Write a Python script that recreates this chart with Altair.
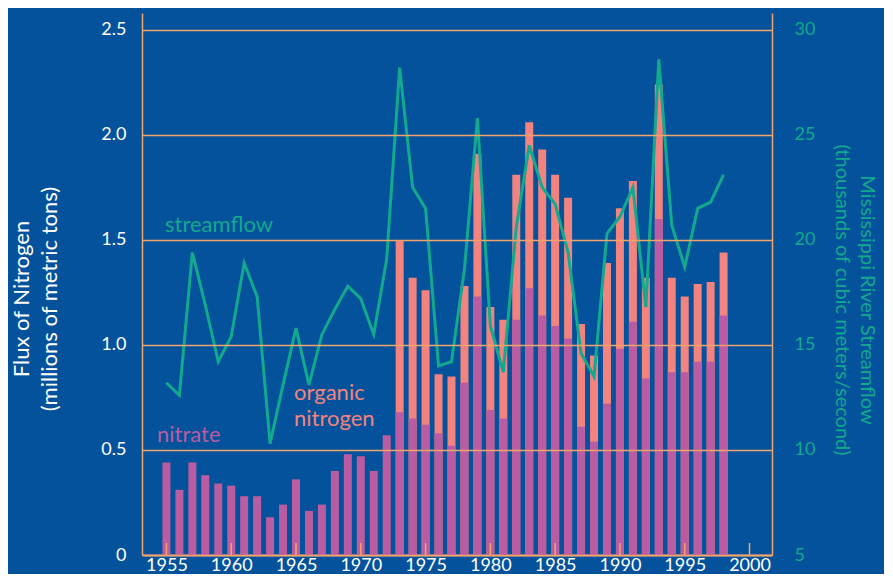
import altair as alt
import pandas as pd

# ---------------- data ----------------
years = list(range(1955, 1999))

nitrate = [0.44, 0.31, 0.44, 0.38, 0.34, 0.33, 0.28, 0.28, 0.18, 0.24,
           0.36, 0.21, 0.24, 0.40, 0.48, 0.47, 0.40, 0.57, 0.68, 0.65,
           0.62, 0.58, 0.52, 0.82, 1.23, 0.69, 0.65, 1.12, 1.27, 1.14,
           1.09, 1.03, 0.61, 0.54, 0.72, 0.98, 1.11, 0.84, 1.60, 0.87,
           0.87, 0.92, 0.92, 1.14]

# nitrate + organic nitrogen (organic only measured from 1973)
total_n = [None] * 18 + [1.50, 1.32, 1.26, 0.86, 0.85, 1.28, 1.91, 1.18,
                         1.12, 1.81, 2.06, 1.93, 1.81, 1.70, 1.10, 0.95,
                         1.39, 1.65, 1.78, 1.32, 2.24, 1.32, 1.23, 1.29,
                         1.30, 1.44]

streamflow = [13.2, 12.6, 19.4, 16.9, 14.2, 15.4, 18.9, 17.3, 10.3, 13.1,
              15.8, 13.1, 15.5, 16.7, 17.8, 17.2, 15.5, 19.1, 28.2, 22.5,
              21.5, 14.0, 14.2, 18.6, 25.8, 15.9, 13.7, 20.6, 24.5, 22.5,
              21.7, 19.4, 14.6, 13.5, 20.3, 21.1, 22.5, 16.8, 28.6, 20.7,
              18.7, 21.5, 21.8, 23.1]

x_ticks = [1955, 1960, 1965, 1970, 1975, 1980, 1985, 1990, 1995, 2000]
left_ticks = [0, 0.5, 1.0, 1.5, 2.0, 2.5]
right_ticks = [5, 10, 15, 20, 25, 30]

# ---------------- style ----------------
BG = "#03529b"
GRID = "#f2a46c"
TEAL = "#12a98e"
SALMON = "#f2837f"
MAGENTA = "#b95ca2"
WHITE = "#ffffff"
FONT = "Lato"

df = pd.DataFrame({"year": years, "nitrate": nitrate,
                   "total": total_n, "flow": streamflow})
ticks_df = pd.DataFrame({"year": x_ticks})

x_scale = alt.Scale(domain=[1953.5, 2001.35], nice=False, zero=False)
y_scale = alt.Scale(domain=[0, 2.58], nice=False)
y2_scale = alt.Scale(domain=[5, 30.8], nice=False, zero=False)

x_enc = alt.X("year:Q", scale=x_scale,
              axis=alt.Axis(values=x_ticks, format="d", title=None,
                            ticks=False, labelColor=WHITE, labelFontSize=18,
                            labelFont=FONT, labelPadding=1,
                            domainColor=GRID, domainWidth=2, grid=False))

left_axis = alt.Axis(values=left_ticks, title=None,
                     labelExpr="datum.value == 0 ? '0' : format(datum.value, '.1f')",
                     labelColor=WHITE, labelFontSize=18, labelFont=FONT,
                     labelPadding=16, ticks=False,
                     domainColor=GRID, domainWidth=1.5,
                     grid=True, gridColor=GRID, gridWidth=1.5, gridOpacity=1,
                     zindex=1)

total_bars = alt.Chart(df).mark_bar(size=8, color=SALMON).encode(
    x=x_enc,
    y=alt.Y("total:Q", scale=y_scale, axis=left_axis),
)

nitrate_bars = alt.Chart(df).mark_bar(size=8, color=MAGENTA).encode(
    x=alt.X("year:Q", scale=x_scale),
    y=alt.Y("nitrate:Q", scale=y_scale),
)

tick_rules = alt.Chart(ticks_df).mark_rule(color=GRID, strokeWidth=1.5).encode(
    x=alt.X("year:Q", scale=x_scale),
    y=alt.value(542),
    y2=alt.value(530),
)

flow_line = alt.Chart(df).mark_line(color=TEAL, strokeWidth=3,
                                    strokeJoin="miter").encode(
    x=alt.X("year:Q", scale=x_scale),
    y=alt.Y("flow:Q", scale=y2_scale,
            axis=alt.Axis(orient="right", values=right_ticks, title=None,
                          labelColor=TEAL, labelFontSize=18, labelFont=FONT,
                          labelPadding=22, ticks=False,
                          domainColor=GRID, domainWidth=1.5, grid=False)),
)

def label(txt, x, y, color, size, angle=0, align="left", baseline="middle"):
    return alt.Chart(pd.DataFrame({"t": [txt]})).mark_text(
        color=color, fontSize=size, font=FONT, angle=angle, align=align,
        baseline=baseline, lineBreak="\n", lineHeight=26,
    ).encode(x=alt.value(x), y=alt.value(y), text="t:N")

annotations = [
    label("streamflow", 23, 212, TEAL, 22),
    label("nitrate", 15, 422, MAGENTA, 22),
    label("organic\nnitrogen", 152, 370, SALMON, 22, baseline="top"),
    label("Flux  of  Nitrogen", -120, 286, WHITE, 22, angle=270, align="center"),
    label("(millions  of  metric  tons)", -92, 286, WHITE, 22, angle=270, align="center"),
    label("Mississippi  River  Streamflow", 725, 287, TEAL, 20, angle=90, align="center"),
    label("(thousands  of  cubic  meters/second)", 700, 287, TEAL, 20, angle=90, align="center"),
]

bars = alt.layer(total_bars, nitrate_bars, tick_rules)

chart = alt.layer(bars, flow_line, *annotations).resolve_scale(
    y="independent"
).properties(
    width=630, height=542,
    background=BG,
    padding={"left": 134, "top": 5, "right": 112, "bottom": 19},
    autosize=alt.AutoSizeParams(type="none"),
).configure_view(stroke=None)

chart.save("out.html", embed_options={"renderer": "svg", "actions": False})
